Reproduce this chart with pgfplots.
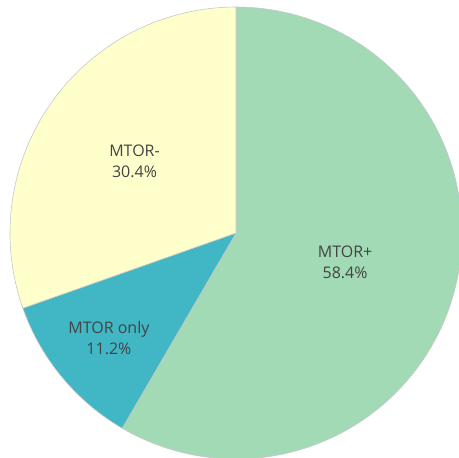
\documentclass[border=0pt]{standalone}
\usepackage{pgfplots}
\pgfplotsset{compat=1.18}
\usepgfplotslibrary{polar}
\usepackage{fontspec}
\setmainfont{Open Sans}
\definecolor{cplus}{HTML}{A1DAB4}
\definecolor{conly}{HTML}{41B6C4}
\definecolor{cminus}{HTML}{FFFFCC}
\definecolor{txt}{HTML}{444444}
\definecolor{edge}{HTML}{C8C8C8}
% shares in percent
\pgfmathsetmacro{\pplus}{58.4}
\pgfmathsetmacro{\ponly}{11.2}
\pgfmathsetmacro{\pminus}{30.4}
\pgfmathsetmacro{\aA}{90}
\pgfmathsetmacro{\aB}{\aA-3.6*\pplus}
\pgfmathsetmacro{\aC}{\aB-3.6*\ponly}
\pgfmathsetmacro{\aD}{\aC-3.6*\pminus}
\begin{document}
\begin{tikzpicture}
\begin{polaraxis}[hide axis, scale only axis, width=452pt, height=452pt,
  ymin=0, ymax=1, xmin=0, xmax=360, clip=false,
  every axis plot/.append style={line width=0.6pt, draw=edge}]
\addplot[fill=cplus, domain=\aB:\aA, samples=120] {1} -- (axis cs:0,0) -- cycle;
\addplot[fill=conly, domain=\aC:\aB, samples=40] {1} -- (axis cs:0,0) -- cycle;
\addplot[fill=cminus, domain=\aD:\aC, samples=80] {1} -- (axis cs:0,0) -- cycle;
\coordinate (O) at (axis cs:0,0);
\node[font=\fontsize{16}{20.5}\selectfont, text=txt, align=center] at (axis cs:{(\aA+\aB)/2},0.5) {MTOR+\\58.4\%};
\node[font=\fontsize{16}{20.5}\selectfont, text=txt, align=center] at (axis cs:{(\aB+\aC)/2},0.73) {MTOR only\\11.2\%};
\node[font=\fontsize{16}{20.5}\selectfont, text=txt, align=center] at (axis cs:{(\aC+\aD)/2},0.55) {MTOR-\\30.4\%};
\end{polaraxis}
\pgfresetboundingbox
\path (O) ++(-236pt,-225pt) rectangle ++(459pt,458pt);
\end{tikzpicture}
\end{document}
